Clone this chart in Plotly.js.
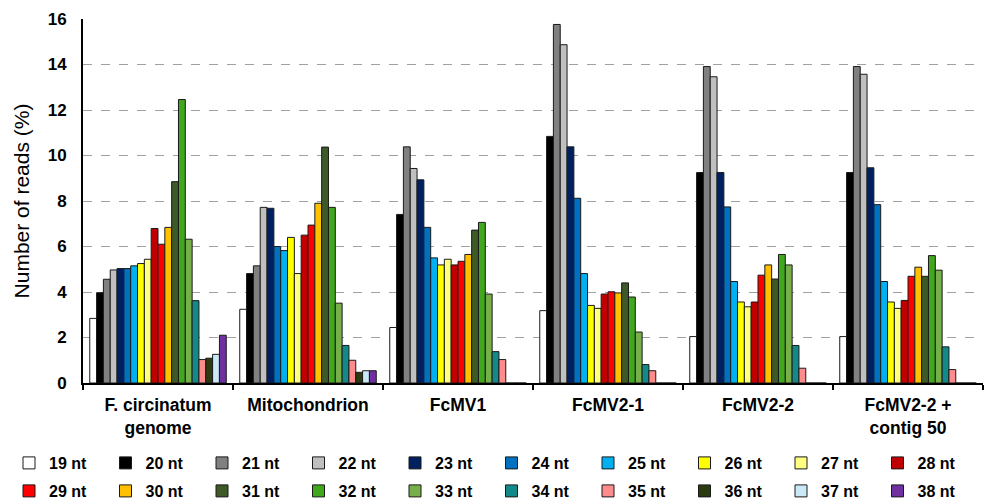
<!DOCTYPE html>
<html>
<head>
<meta charset="utf-8">
<script src="https://cdn.plot.ly/plotly-3.0.1.min.js"></script>
<style>html,body{margin:0;padding:0;background:#fff;}#chart{width:988px;height:501px;}</style>
</head>
<body>
<div id="chart"></div>
<script>
const categories = ["F. circinatum<br>genome", "Mitochondrion", "FcMV1", "FcMV2-1", "FcMV2-2", "FcMV2-2 +<br>contig 50"];
const seriesNames = ["19 nt","20 nt","21 nt","22 nt","23 nt","24 nt","25 nt","26 nt","27 nt","28 nt",
                     "29 nt","30 nt","31 nt","32 nt","33 nt","34 nt","35 nt","36 nt","37 nt","38 nt"];
const seriesColors = ["#ffffff","#000000","#808080","#c0c0c0","#002060","#0070c0","#00b0f0","#ffff00","#ffff80","#c00000",
                      "#ff0000","#ffc000","#3d5a27","#40a81c","#77b04a","#138a8a","#ff8c8c","#2b3a10","#cbe8f6","#7030a0"];
// values per series, in category order
const v19 = [2.84, 3.24, 2.44, 3.18, 2.04, 2.04];
const v20 = [3.97, 4.81, 7.41, 10.84, 9.25, 9.25];
const v21 = [4.56, 5.15, 10.38, 15.76, 13.91, 13.91];
const v22 = [4.97, 7.72, 9.43, 14.87, 13.46, 13.57];
const v23 = [5.03, 7.68, 8.93, 10.38, 9.25, 9.46];
const v24 = [5.03, 6.00, 6.84, 8.12, 7.74, 7.84];
const v25 = [5.15, 5.82, 5.50, 4.81, 4.46, 4.46];
const v26 = [5.25, 6.40, 5.19, 3.41, 3.56, 3.56];
const v27 = [5.44, 4.81, 5.44, 3.28, 3.35, 3.28];
const v28 = [6.79, 6.50, 5.19, 3.91, 3.56, 3.63];
const v29 = [6.10, 6.94, 5.35, 4.01, 4.74, 4.69];
const v30 = [6.84, 7.90, 5.65, 3.96, 5.19, 5.09];
const v31 = [8.85, 10.37, 6.72, 4.40, 4.57, 4.69];
const v32 = [12.46, 7.72, 7.06, 3.78, 5.65, 5.60];
const v33 = [6.32, 3.51, 3.91, 2.24, 5.19, 4.96];
const v34 = [3.62, 1.65, 1.38, 0.81, 1.65, 1.59];
const v35 = [1.03, 1.00, 1.03, 0.54, 0.65, 0.59];
const v36 = [1.09, 0.47, 0, 0, 0, 0];
const v37 = [1.26, 0.54, 0, 0, 0, 0];
const v38 = [2.10, 0.54, 0, 0, 0, 0];
const seriesValues = [v19,v20,v21,v22,v23,v24,v25,v26,v27,v28,v29,v30,v31,v32,v33,v34,v35,v36,v37,v38];
const yTicks = [0, 2, 4, 6, 8, 10, 12, 14, 16];

// legend split in 4 blocks of 5 entries (2 rows x 2 halves)
const legendIds = ['legend', 'legend2', 'legend3', 'legend4'];
const traces = seriesNames.map((name, i) => ({
  type: 'bar',
  name: name,
  x: categories,
  y: seriesValues[i],
  legend: legendIds[Math.floor(i / 5)],
  marker: {color: seriesColors[i], line: {color: '#1a1a1a', width: 1}},
  hoverinfo: 'name+y'
}));

const legendCommon = {
  orientation: 'h', xanchor: 'left', yanchor: 'top', xref: 'container', yref: 'container',
  font: {size: 16, weight: 700, family: 'Liberation Sans, Arial, sans-serif', color: '#000'},
  entrywidth: 51.5, entrywidthmode: 'pixels', itemwidth: 30,
  traceorder: 'normal', bgcolor: 'rgba(0,0,0,0)'
};
const W = 988, H = 501;
const legLeft = 9, legStep = 96.5, row1Top = 446, row2Top = 474;

const layout = {
  width: W, height: H,
  margin: {l: 83, r: 5, t: 19, b: 118},
  paper_bgcolor: '#ffffff', plot_bgcolor: '#ffffff',
  barmode: 'group', bargap: 0.09, bargroupgap: 0,
  font: {family: 'Liberation Sans, Arial, sans-serif', color: '#000'},
  showlegend: true,
  legend:  Object.assign({}, legendCommon, {x: legLeft / W, y: 1 - row1Top / H}),
  legend2: Object.assign({}, legendCommon, {x: (legLeft + 5 * legStep) / W, y: 1 - row1Top / H}),
  legend3: Object.assign({}, legendCommon, {x: legLeft / W, y: 1 - row2Top / H}),
  legend4: Object.assign({}, legendCommon, {x: (legLeft + 5 * legStep) / W, y: 1 - row2Top / H}),
  xaxis: {
    type: 'category', showline: true, linecolor: '#000', linewidth: 2,
    ticks: 'outside', tickson: 'boundaries', ticklen: 5, tickwidth: 2, tickcolor: '#000',
    tickfont: {size: 17.5, weight: 700}, ticklabelstandoff: 5, showgrid: false, zeroline: false
  },
  yaxis: {
    range: [0, 16], tickvals: yTicks, showline: true, linecolor: '#000', linewidth: 2,
    ticks: '', tickfont: {size: 17, weight: 700}, ticklabelstandoff: 11,
    showgrid: true, gridcolor: '#a0a0a0', griddash: 'dash', gridwidth: 1, zeroline: false,
    title: {text: 'Number of reads (%)', font: {size: 21}, standoff: 12}
  }
};

Plotly.newPlot('chart', traces, layout, {displayModeBar: false, staticPlot: true});
</script>
</body>
</html>
